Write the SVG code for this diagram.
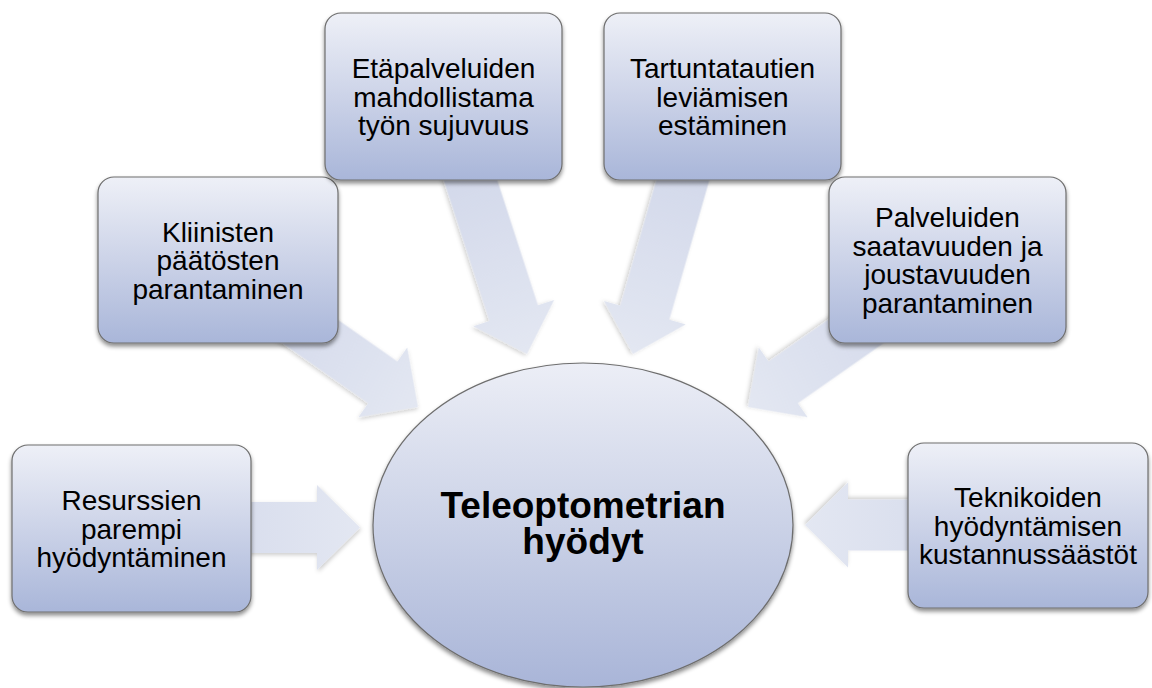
<svg xmlns="http://www.w3.org/2000/svg" xmlns:xlink="http://www.w3.org/1999/xlink" width="1152" height="688" viewBox="0 0 1152 688">
  <defs>
    <linearGradient id="boxGrad" x1="0" y1="0" x2="0" y2="1">
      <stop offset="0" stop-color="#eef0f7"/>
      <stop offset="0.5" stop-color="#ccd3e8"/>
      <stop offset="1" stop-color="#a9b6d9"/>
    </linearGradient>
    <linearGradient id="ellGrad" x1="0" y1="0" x2="0" y2="1">
      <stop offset="0" stop-color="#eceef6"/>
      <stop offset="0.5" stop-color="#cbd2e7"/>
      <stop offset="1" stop-color="#a9b5d8"/>
    </linearGradient>
    <linearGradient id="arrGrad" x1="0" y1="0" x2="1" y2="0">
      <stop offset="0" stop-color="#d2d8ea"/>
      <stop offset="1" stop-color="#e3e7f2"/>
    </linearGradient>
    <filter id="shadow" x="-10%" y="-10%" width="125%" height="130%">
      <feDropShadow dx="0" dy="3" stdDeviation="2" flood-color="#000" flood-opacity="0.45"/>
    </filter>
    <filter id="arrShadow" x="-10%" y="-15%" width="125%" height="135%">
      <feDropShadow dx="1" dy="2" stdDeviation="2" flood-color="#000" flood-opacity="0.2"/>
    </filter>
    <path id="arr" d="M0,0 L-43,-42.5 L-43,-25.5 L-200,-25.5 L-200,25.5 L-43,25.5 L-43,42.5 Z"/>
  </defs>
  <style>
    .box { fill: url(#boxGrad); stroke: #6e6e6e; stroke-width: 1.2; filter: url(#shadow); }
    .ell { fill: url(#ellGrad); stroke: #6e6e6e; stroke-width: 1.2; filter: url(#shadow); }
    .arrow { fill: url(#arrGrad); filter: url(#arrShadow); }
    .t { font-family: "Liberation Sans", Arial, sans-serif; font-size: 28px; fill: #000; text-anchor: middle; }
    .tc { font-family: "Liberation Sans", Arial, sans-serif; font-size: 37px; font-weight: bold; fill: #000; text-anchor: middle; }
  </style>

  <g id="connectors">
    <use class="arrow" xlink:href="#arr" href="#arr" transform="translate(360,527.5)"/>
    <use class="arrow" xlink:href="#arr" href="#arr" transform="translate(418,407) rotate(35)"/>
    <use class="arrow" xlink:href="#arr" href="#arr" transform="translate(527,354) rotate(72)"/>
    <use class="arrow" xlink:href="#arr" href="#arr" transform="translate(633,354) rotate(106)"/>
    <use class="arrow" xlink:href="#arr" href="#arr" transform="translate(748,407) rotate(145)"/>
    <use class="arrow" xlink:href="#arr" href="#arr" transform="translate(805,525) rotate(180)"/>
  </g>

  <g id="center">
    <ellipse class="ell" cx="583" cy="525" rx="210" ry="162"/>
    <text class="tc" x="583" y="518">Teleoptometrian</text>
    <text class="tc" x="583" y="554">hyödyt</text>
  </g>

  <g id="node-resurssien">
    <rect class="box" x="12" y="445" width="239" height="167" rx="16"/>
    <text class="t" x="131.5" y="510">Resurssien</text>
    <text class="t" x="131.5" y="538.5">parempi</text>
    <text class="t" x="131.5" y="567">hyödyntäminen</text>
  </g>

  <g id="node-kliinisten">
    <rect class="box" x="98" y="177" width="240" height="166" rx="16"/>
    <text class="t" x="218" y="241.5">Kliinisten</text>
    <text class="t" x="218" y="270">päätösten</text>
    <text class="t" x="218" y="298.5">parantaminen</text>
  </g>

  <g id="node-etapalveluiden">
    <rect class="box" x="325" y="13" width="237" height="167" rx="16"/>
    <text class="t" x="443.5" y="78">Etäpalveluiden</text>
    <text class="t" x="443.5" y="106.5">mahdollistama</text>
    <text class="t" x="443.5" y="135">työn sujuvuus</text>
  </g>

  <g id="node-tartuntatautien">
    <rect class="box" x="604" y="13" width="237" height="167" rx="16"/>
    <text class="t" x="722.5" y="78">Tartuntatautien</text>
    <text class="t" x="722.5" y="106.5">leviämisen</text>
    <text class="t" x="722.5" y="135">estäminen</text>
  </g>

  <g id="node-palveluiden">
    <rect class="box" x="829" y="177" width="237" height="166" rx="16"/>
    <text class="t" x="947.5" y="227.3">Palveluiden</text>
    <text class="t" x="947.5" y="255.8">saatavuuden ja</text>
    <text class="t" x="947.5" y="284.3">joustavuuden</text>
    <text class="t" x="947.5" y="312.8">parantaminen</text>
  </g>

  <g id="node-teknikoiden">
    <rect class="box" x="908" y="443" width="240" height="165" rx="16"/>
    <text class="t" x="1028" y="507">Teknikoiden</text>
    <text class="t" x="1028" y="535.5">hyödyntämisen</text>
    <text class="t" x="1028" y="564">kustannussäästöt</text>
  </g>
</svg>
